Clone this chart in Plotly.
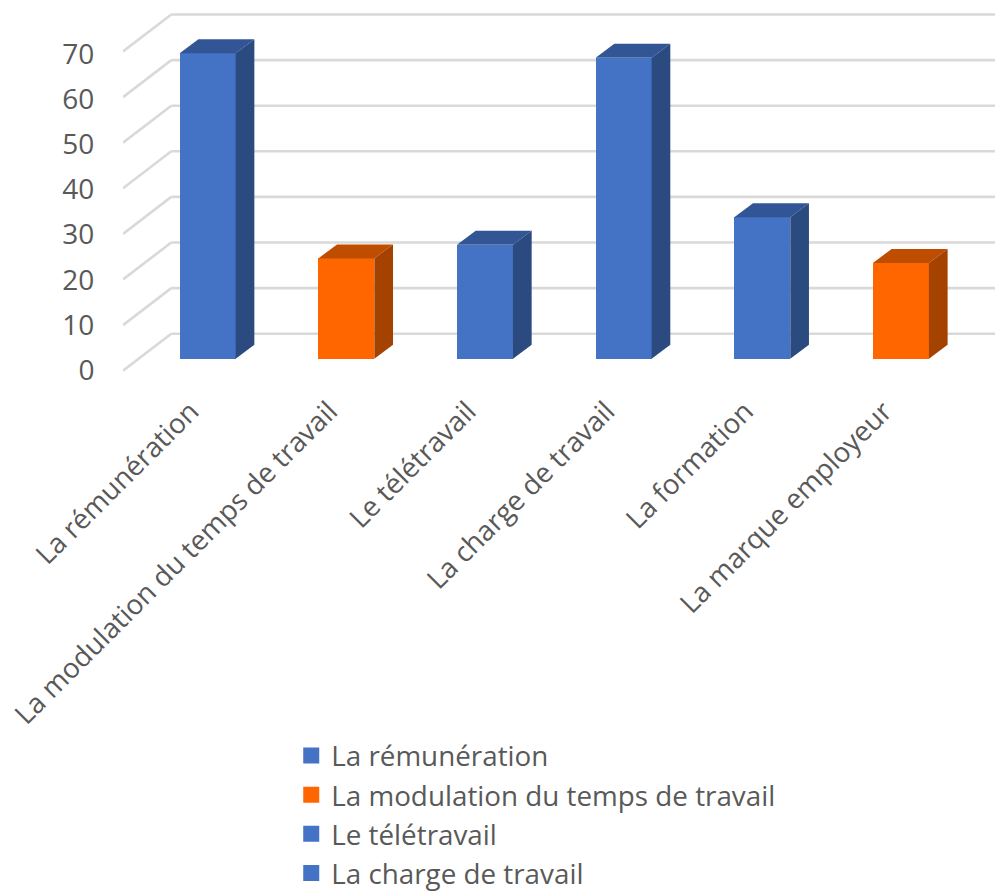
import plotly.graph_objects as go

categories = ["La rémunération", "La modulation du temps de travail", "Le télétravail",
              "La charge de travail", "La formation", "La marque employeur"]
values = [67, 22, 25, 66, 31, 21]
front_colors = ["#4472C4", "#FF6600", "#4472C4", "#4472C4", "#4472C4", "#FF6600"]
top_colors = ["#325595", "#BF4D00", "#325595", "#325595", "#325595", "#BF4D00"]
side_colors = ["#2A4A80", "#A44200", "#2A4A80", "#2A4A80", "#2A4A80", "#A44200"]
y_ticks = [0, 10, 20, 30, 40, 50, 60, 70]
legend_names = categories[:4]
legend_colors = front_colors[:4]

FONT = "Open Sans"
TEXT = "#595959"
GRID = "#D9D9D9"
W, H = 995, 891
L, PH = 122.7, 381.0
X0PX, PITCH = 207.4, 138.7
UNIT = 4.56
Y0PX = 370.7
LAB0, LABUNIT = 370.0, 4.514
WALL_DX, WALL_DY = 48.3 / PITCH, 37.0 / UNIT
BAR_W = 56 / PITCH
BAR_DX, BAR_DY = 18.7 / PITCH, 14.0 / UNIT
BASE = (Y0PX - 358.7) / UNIT
LABEL_SHIFT = -17 / PITCH

xr = [(L - X0PX) / PITCH, (W - X0PX) / PITCH]
yr = [-(PH - LAB0) / LABUNIT, LAB0 / LABUNIT]
y2r = [-(PH - Y0PX) / UNIT, Y0PX / UNIT]
xs = list(range(len(categories)))

fig = go.Figure()

shapes = []
for t in y_ticks:
    line = dict(color=GRID, width=2.6)
    shapes.append(dict(type="line", xref="x", yref="y2", layer="below", line=line,
                       x0=xr[0], y0=t, x1=xr[0] + WALL_DX, y1=t + WALL_DY))
    shapes.append(dict(type="line", xref="x", yref="y2", layer="below", line=line,
                       x0=xr[0] + WALL_DX, y0=t + WALL_DY, x1=xr[1], y1=t + WALL_DY))

for name, color in zip(legend_names, legend_colors):
    fig.add_trace(go.Scatter(x=[None], y=[None], name=name, mode="markers", legendgroup=name,
                             marker=dict(symbol="square", size=19, color=color)))

fig.add_trace(go.Bar(x=xs, y=values, base=[BASE] * len(values), width=BAR_W, yaxis="y2",
                     marker=dict(color=front_colors, line=dict(width=0)),
                     showlegend=False))

for x, v, top, side in zip(xs, values, top_colors, side_colors):
    l, r = x - BAR_W / 2, x + BAR_W / 2
    b, t = BASE, BASE + v
    fig.add_trace(go.Scatter(x=[l, r, r + BAR_DX, l + BAR_DX, l],
                             y=[t, t, t + BAR_DY, t + BAR_DY, t],
                             yaxis="y2", fill="toself", fillcolor=top, mode="lines",
                             line=dict(width=0), showlegend=False, hoverinfo="skip"))
    fig.add_trace(go.Scatter(x=[r, r + BAR_DX, r + BAR_DX, r, r],
                             y=[b, b + BAR_DY, t + BAR_DY, t, b],
                             yaxis="y2", fill="toself", fillcolor=side, mode="lines",
                             line=dict(width=0), showlegend=False, hoverinfo="skip"))

fig.update_layout(
    width=W, height=H, autosize=False,
    margin=dict(l=L, r=0, t=0, b=H - PH, pad=0, autoexpand=False),
    paper_bgcolor="white", plot_bgcolor="white",
    font=dict(family=FONT, color=TEXT, size=28),
    shapes=shapes,
    bargap=0,
    xaxis=dict(range=xr, tickmode="array", tickvals=[x + LABEL_SHIFT for x in xs],
               ticktext=categories, tickangle=-45,
               showgrid=False, zeroline=False, showline=False,
               ticks="outside", ticklen=2, tickcolor="rgba(0,0,0,0)",
               tickfont=dict(family=FONT, size=27.7, color=TEXT)),
    yaxis=dict(range=yr, tickmode="array", tickvals=y_ticks, showgrid=False, zeroline=False,
               showline=False, ticks="outside", ticklen=22, tickcolor="rgba(0,0,0,0)",
               tickfont=dict(family=FONT, size=28, color=TEXT)),
    yaxis2=dict(range=y2r, overlaying="y", visible=False),
    legend=dict(x=(291 - L) / (W - L), y=(PH - 731) / PH, xanchor="left", yanchor="top",
                bgcolor="rgba(0,0,0,0)", itemsizing="trace", tracegroupgap=3,
                traceorder="normal", font=dict(family=FONT, size=27.8, color=TEXT)),
)

fig.write_html("out.html", config={"displayModeBar": False},
               post_script="document.body.style.margin='0';")
